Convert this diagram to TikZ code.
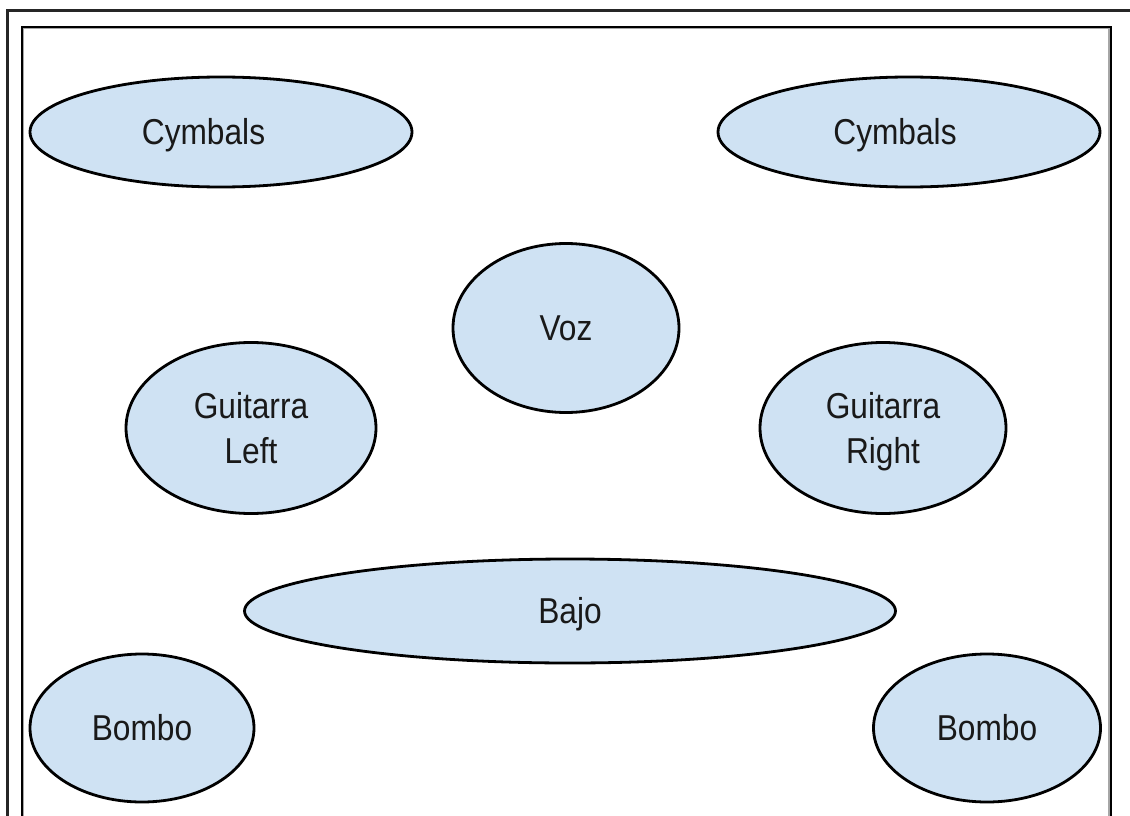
\documentclass[tikz,border=0pt]{standalone}
\usepackage{fontspec}
\setmainfont{Liberation Sans}
\newfontfamily\labfont[FakeStretch=0.88]{Liberation Sans}
\usetikzlibrary{shapes.geometric}
\definecolor{fillblue}{HTML}{CFE2F3}
\tikzset{
  instr/.style={ellipse, draw=black, line width=2.8pt, fill=fillblue, inner sep=0pt,
    font=\labfont\fontsize{36}{45}\selectfont, text=black!90, align=center,
    text height=25.8pt, text depth=0pt},
  twoline/.style={text height=70.8pt, text depth=0pt},
  lab/.style={inner sep=0pt, font=\labfont\fontsize{36}{45}\selectfont, text=black!90, align=center,
    text height=25.8pt, text depth=0pt},
  frameline/.style={line width=3pt, draw=black!85},
}
\begin{document}
\begin{tikzpicture}[x=1pt,y=-1pt]
\useasboundingbox (0,0) rectangle (1130,816);
\fill[white] (0,0) rectangle (1130,816);
% frames
\draw[frameline] (7.5,816) -- (7.5,11) -- (1130,11);
\draw[line width=3.5pt, draw=black!35] (22.5,816) -- (22.5,27.5) -- (1110,27.5) -- (1110,816);
\draw[line width=2pt, draw=black] (22,816) -- (22,27) -- (1110.5,27) -- (1110.5,816);
% instruments
\node[instr, minimum width=382pt, minimum height=110pt] (cymL) at (221,132) {};
\node[lab] (cymLt) at (203.5,131.5) {Cymbals};
\node[instr, minimum width=382pt, minimum height=110pt] (cymR) at (909,132) {};
\node[lab] (cymRt) at (895,131.5) {Cymbals};
\node[instr, minimum width=226pt, minimum height=169pt] (voz) at (566,328) {Voz};
\node[instr, twoline, minimum width=250pt, minimum height=171pt] (gtL) at (251,428) {Guitarra\\Left};
\node[instr, twoline, minimum width=246pt, minimum height=171pt] (gtR) at (883,428) {Guitarra\\Right};
\node[instr, minimum width=651pt, minimum height=104pt] (bajo) at (570,611) {Bajo};
\node[instr, minimum width=224pt, minimum height=148pt] (bomL) at (142,728) {Bombo};
\node[instr, minimum width=227pt, minimum height=148pt] (bomR) at (987,728) {Bombo};
\end{tikzpicture}
\end{document}
